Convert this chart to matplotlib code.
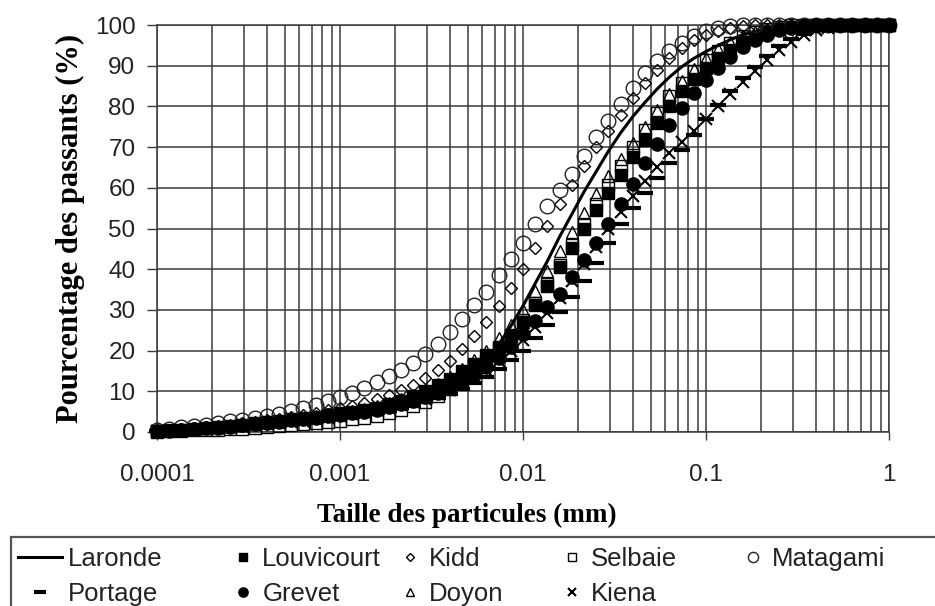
import matplotlib
matplotlib.use('Agg')
import matplotlib.pyplot as plt
from matplotlib.ticker import LogLocator, NullFormatter
from matplotlib.patches import Rectangle

plt.rcParams['font.family'] = ['Liberation Sans', 'DejaVu Sans']

# particle sizes (mm), shared by every series (15 per decade)
sizes = [0.0001, 0.0001166, 0.0001359, 0.0001585, 0.0001848, 0.0002154, 0.0002512, 0.0002929,
         0.0003415, 0.0003981, 0.0004642, 0.0005412, 0.000631, 0.0007356, 0.0008577,
         0.001, 0.001166, 0.001359, 0.001585, 0.001848, 0.002154, 0.002512, 0.002929,
         0.003415, 0.003981, 0.004642, 0.005412, 0.00631, 0.007356, 0.008577,
         0.01, 0.01166, 0.01359, 0.01585, 0.01848, 0.02154, 0.02512, 0.02929,
         0.03415, 0.03981, 0.04642, 0.05412, 0.0631, 0.07356, 0.08577,
         0.1, 0.1166, 0.1359, 0.1585, 0.1848, 0.2154, 0.2512, 0.2929,
         0.3415, 0.3981, 0.4642, 0.5412, 0.631, 0.7356, 0.8577, 1.0]

# cumulative passing (%)
laronde = [0.0, 0.2, 0.4, 0.6, 0.8, 1.0, 1.2, 1.5, 1.7, 2.0, 2.3, 2.7, 3.0, 3.4, 3.8,
           4.3, 4.8, 5.3, 5.8, 6.5, 7.2, 8.0, 8.9, 9.8, 11.0, 12.8, 15.0, 18.0, 21.5, 26.0,
           31.0, 36.5, 42.0, 48.0, 53.5, 59.0, 64.0, 69.0, 73.5, 77.5, 81.0, 84.3, 87.2, 89.7, 91.8,
           93.5, 95.0, 96.4, 97.6, 98.4, 99.0, 99.5, 99.8, 99.9, 100, 100, 100, 100, 100, 100, 100]
louvicourt = [0.3, 0.4, 0.6, 0.8, 1.0, 1.2, 1.5, 1.8, 2.2, 2.5, 2.8, 3.2, 3.5, 3.8, 4.2,
              4.6, 5.0, 5.5, 6.0, 6.8, 7.7, 8.8, 10.1, 11.5, 13.0, 14.9, 16.8, 18.8, 20.9, 23.7,
              27.0, 31.3, 35.8, 40.5, 45.2, 49.8, 54.5, 58.8, 63.2, 67.5, 71.8, 76.0, 80.0, 83.7, 86.8,
              89.5, 91.8, 93.9, 95.8, 97.1, 98.2, 99.0, 99.5, 99.8, 100, 100, 100, 100, 100, 100, 100]
kidd = [0.3, 0.5, 0.7, 1.0, 1.3, 1.5, 1.8, 2.1, 2.5, 2.9, 3.3, 3.7, 4.2, 4.7, 5.3,
        5.8, 6.5, 7.2, 8.0, 9.0, 10.2, 11.5, 13.2, 15.2, 17.5, 20.5, 23.7, 27.0, 31.0, 35.3,
        40.0, 45.3, 50.7, 56.0, 60.7, 65.3, 70.0, 74.0, 78.0, 82.0, 85.7, 89.0, 92.0, 94.3, 96.2,
        97.5, 98.5, 99.3, 99.8, 100, 100, 100, 100, 100, 100, 100, 100, 100, 100, 100, 100]
selbaie = [0.1, 0.2, 0.3, 0.4, 0.5, 0.6, 0.7, 0.8, 1.0, 1.2, 1.4, 1.6, 1.9, 2.2, 2.5,
           2.8, 3.1, 3.5, 4.0, 4.7, 5.4, 6.3, 7.4, 8.8, 10.5, 12.5, 14.8, 17.5, 20.5, 23.8,
           27.5, 31.8, 36.3, 41.0, 46.0, 51.0, 56.0, 60.7, 65.3, 70.0, 74.3, 78.5, 82.5, 85.8, 88.8,
           91.5, 93.7, 95.6, 97.2, 98.3, 99.1, 99.6, 99.9, 100, 100, 100, 100, 100, 100, 100, 100]
matagami = [0.5, 0.8, 1.2, 1.5, 1.8, 2.2, 2.6, 3.0, 3.5, 4.0, 4.5, 5.1, 5.8, 6.6, 7.5,
            8.5, 9.5, 10.7, 12.2, 13.7, 15.3, 17.0, 19.2, 21.7, 24.5, 27.8, 31.2, 34.5, 38.5, 42.5,
            46.5, 51.2, 55.5, 59.5, 63.5, 67.8, 72.5, 76.5, 80.5, 84.5, 88.2, 91.2, 93.5, 95.5, 97.2,
            98.5, 99.2, 99.7, 100, 100, 100, 100, 100, 100, 100, 100, 100, 100, 100, 100, 100]
portage = [0.2, 0.3, 0.5, 0.6, 0.7, 0.9, 1.0, 1.2, 1.4, 1.6, 1.9, 2.1, 2.4, 2.7, 3.1,
           3.4, 3.8, 4.2, 4.7, 5.2, 5.8, 6.5, 7.4, 8.3, 9.3, 10.6, 12.0, 13.5, 15.5, 17.7,
           20.0, 23.0, 26.2, 29.5, 33.2, 37.2, 41.5, 46.5, 51.0, 55.0, 58.7, 62.3, 66.0, 69.3, 73.0,
           77.0, 80.3, 83.7, 87.0, 89.7, 92.3, 94.8, 96.5, 97.8, 98.8, 99.3, 99.7, 100, 100, 100, 100]
grevet = [0.2, 0.3, 0.5, 0.7, 0.9, 1.1, 1.3, 1.6, 1.9, 2.2, 2.5, 2.9, 3.2, 3.5, 3.9,
          4.2, 4.6, 5.0, 5.5, 6.1, 6.8, 7.6, 8.5, 9.6, 10.8, 12.4, 14.1, 16.0, 18.3, 21.0,
          24.0, 27.3, 30.7, 34.0, 38.0, 42.2, 46.5, 51.2, 56.0, 61.0, 66.0, 70.8, 75.5, 79.5, 83.2,
          86.5, 89.5, 92.2, 94.5, 96.2, 97.6, 98.7, 99.3, 99.7, 100, 100, 100, 100, 100, 100, 100]
doyon = [0.3, 0.4, 0.6, 0.8, 1.0, 1.2, 1.5, 1.8, 2.2, 2.5, 2.8, 3.2, 3.5, 3.9, 4.3,
         4.7, 5.2, 5.7, 6.3, 7.1, 8.0, 9.0, 10.3, 11.8, 13.5, 15.5, 17.7, 20.0, 23.0, 26.3,
         30.0, 34.7, 39.5, 44.5, 49.2, 53.8, 58.5, 62.8, 67.0, 71.0, 75.0, 79.0, 83.0, 86.3, 89.3,
         92.0, 94.0, 95.8, 97.3, 98.3, 99.1, 99.6, 99.9, 100, 100, 100, 100, 100, 100, 100, 100]
kiena = [0.2, 0.3, 0.5, 0.6, 0.8, 1.0, 1.2, 1.4, 1.6, 1.9, 2.2, 2.5, 2.8, 3.1, 3.5,
         3.9, 4.3, 4.8, 5.3, 5.9, 6.6, 7.3, 8.2, 9.3, 10.4, 11.8, 13.4, 15.2, 17.4, 19.8,
         22.5, 25.8, 29.3, 33.0, 37.0, 41.2, 45.5, 49.8, 54.0, 58.0, 61.7, 65.2, 68.5, 71.2, 74.0,
         77.0, 80.0, 83.0, 86.0, 88.7, 91.3, 93.8, 95.9, 97.6, 98.8, 99.3, 99.7, 100, 100, 100, 100]

xticks = [0.0001, 0.001, 0.01, 0.1, 1]
xtick_labels = ['0.0001', '0.001', '0.01', '0.1', '1']
yticks = [0, 10, 20, 30, 40, 50, 60, 70, 80, 90, 100]

W, H = 935, 606
grid_col = '#3a3a3a'
text_col = '#222222'

fig = plt.figure(figsize=(W / 100, H / 100), dpi=100)
ax = fig.add_axes([157 / W, 1 - 432 / H, (889 - 157) / W, (432 - 25) / H])

mk = dict(ls='none', clip_on=False)
h_lar, = ax.plot(sizes, laronde, color='black', lw=2.2, label='Laronde', zorder=3, clip_on=False)
h_lou, = ax.plot(sizes, louvicourt, marker='s', ms=9, color='black', label='Louvicourt', zorder=4, **mk)
h_kid, = ax.plot(sizes, kidd, marker='D', ms=6.5, mfc='none', mec='black', mew=1, label='Kidd', zorder=4, **mk)
h_sel, = ax.plot(sizes, selbaie, marker='s', ms=8, mfc='none', mec='black', mew=1, label='Selbaie', zorder=4, **mk)
h_mat, = ax.plot(sizes, matagami, marker='o', ms=10.5, mfc='none', mec='#222', mew=1, label='Matagami', zorder=4, **mk)
h_por, = ax.plot(sizes, portage, marker='_', ms=12, mew=3, color='black', label='Portage', zorder=4, **mk)
h_gre, = ax.plot(sizes, grevet, marker='o', ms=9.5, color='black', label='Grevet', zorder=4, **mk)
h_doy, = ax.plot(sizes, doyon, marker='^', ms=8.5, mfc='none', mec='black', mew=1, label='Doyon', zorder=4, **mk)
h_kie, = ax.plot(sizes, kiena, marker='x', ms=8.5, mew=1.5, color='black', label='Kiena', zorder=4, **mk)

ax.set_xscale('log')
ax.set_xlim(1e-4, 1)
ax.set_ylim(0, 100)
ax.set_xticks(xticks)
ax.set_xticklabels(xtick_labels)
ax.xaxis.set_minor_locator(LogLocator(base=10, subs=range(2, 10)))
ax.xaxis.set_minor_formatter(NullFormatter())
ax.set_yticks(yticks)

ax.tick_params(axis='x', which='major', length=6, width=1, color=grid_col,
               pad=17, labelsize=17.5, labelcolor=text_col)
ax.tick_params(axis='x', which='minor', length=0)
ax.tick_params(axis='y', length=7, width=1, color=grid_col, pad=8.5,
               labelsize=17.5, labelcolor=text_col)
ax.grid(True, which='both', axis='x', color=grid_col, lw=1.1)
ax.grid(True, which='major', axis='y', color=grid_col, lw=1.1)
ax.set_axisbelow(True)
for sp in ax.spines.values():
    sp.set_color(grid_col)
    sp.set_linewidth(1.1)

ax.set_xlabel('Taille des particules (mm)', family='Liberation Serif', weight='bold',
              fontsize=19.5, color='black')
ax.xaxis.set_label_coords((467 - 157) / (889 - 157), (432 - 503) / 407)
ax.set_ylabel('Pourcentage des passants (%)', family='Liberation Serif', weight='bold',
              fontsize=22, color='black')
ax.yaxis.set_label_coords((85 - 157) / (889 - 157), 0.5)

# legend: five columns of two entries, inside one box running off the bottom
columns = [[h_lar, h_por], [h_lou, h_gre], [h_kid, h_doy], [h_sel, h_kie], [h_mat]]
centers = [40, 243, 410, 572, 753]
fs = 18.5
fs_px = fs * 100 / 72
for hs, cx in zip(columns, centers):
    hl = 1.7 if hs[0] is h_lar else 0.9
    pad = 0.25 if hs[0] is h_lar else 0.3
    x0 = (cx - hl * fs_px / 2) / W
    fig.legend(handles=hs, loc='upper left', bbox_to_anchor=(x0, 1 - 547 / H),
               bbox_transform=fig.transFigure, frameon=False, fontsize=fs,
               borderpad=0, borderaxespad=0, handlelength=hl, handletextpad=pad,
               labelspacing=0.43, markerscale=0.7, labelcolor=text_col)

fig.add_artist(Rectangle((11 / W, -0.2), 1.2, 0.2 + (H - 537) / H,
                         transform=fig.transFigure, fill=False,
                         edgecolor='#555555', lw=1.6, clip_on=False))

fig.savefig('out.png', dpi=100)
